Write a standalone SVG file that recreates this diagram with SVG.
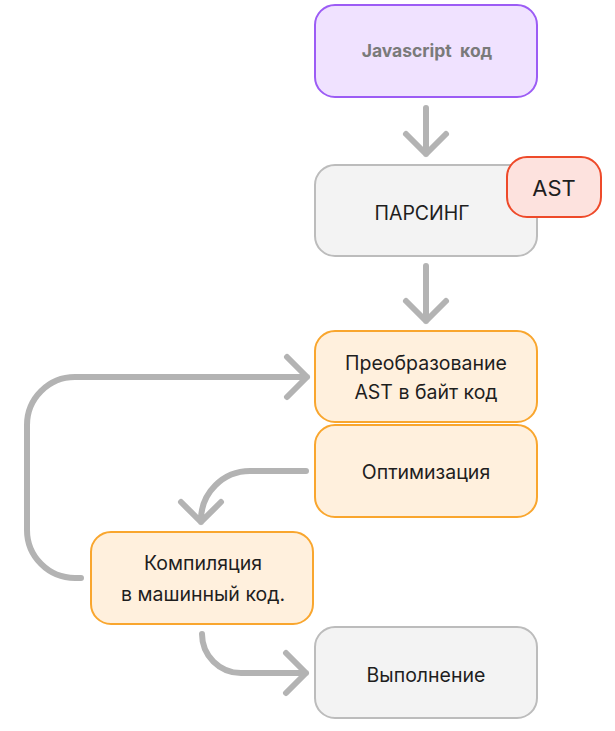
<svg xmlns="http://www.w3.org/2000/svg" width="615" height="731" viewBox="0 0 615 731">
<style>
.box{stroke-width:2}
.purple{fill:#F0E2FF;stroke:#9C5CF5}
.gray{fill:#F3F3F3;stroke:#BCBCBC}
.orange{fill:#FFF0DD;stroke:#F9A62E}
.red{fill:#FDE2DE;stroke:#EE4A2A}
text{font-family:Inter,"Liberation Sans",sans-serif;font-size:19.5px;fill:#1E1E1E;text-anchor:middle}
.conn path{fill:none;stroke:#B3B3B3;stroke-width:6;stroke-linecap:round;stroke-linejoin:round}
</style>
<g id="js"><rect class="box purple" x="315" y="5" width="222" height="92" rx="20"/><text x="427" y="57" style="font-size:17.5px;font-weight:bold;fill:#7A7A7A;white-space:pre">Javascript  код</text></g>
<g id="parsing"><rect class="box gray" x="315" y="165" width="222" height="91" rx="20"/><text x="422" y="220">ПАРСИНГ</text></g>
<g id="ast"><rect class="box red" x="507" y="157" width="94" height="60" rx="20"/><text x="554" y="196" style="font-size:22px">AST</text></g>
<g id="transform"><rect class="box orange" x="315" y="331" width="222" height="91" rx="20"/><text x="426" y="370">Преобразование</text><text x="426" y="399">AST в байт код</text></g>
<g id="optimize"><rect class="box orange" x="315" y="425" width="222" height="92" rx="20"/><text x="426" y="479">Оптимизация</text></g>
<g id="compile"><rect class="box orange" x="91" y="532" width="222" height="92" rx="20"/><text x="203" y="570">Компиляция</text><text x="203" y="601">в машинный код.</text></g>
<g id="exec"><rect class="box gray" x="315" y="627" width="222" height="91" rx="20"/><text x="426" y="682">Выполнение</text></g>
<g class="conn" id="connectors">
<path d="M426 108 V154 M406 134 L426 154 L446 134"/>
<path d="M426 266 V321 M406 301 L426 321 L446 301"/>
<path d="M81 578 H75 A48 48 0 0 1 27 530 V425 A48 48 0 0 1 75 377 H307 M287 357 L307 377 L287 397"/>
<path d="M306 471 H250 A49 49 0 0 0 201 520 V522 M181 502 L201 522 L221 502"/>
<path d="M202 634 A39 39 0 0 0 241 673 H306 M286 653 L306 673 L286 693"/>
</g>
</svg>
